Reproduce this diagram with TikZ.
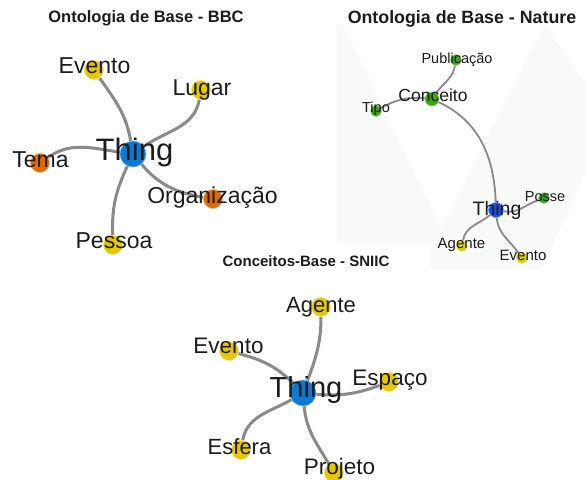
\documentclass[tikz,border=0pt]{standalone}
\usepackage{fontspec}
\setmainfont{Liberation Sans}
\usetikzlibrary{backgrounds}
\definecolor{bluebbc}{HTML}{0A7AD6}
\definecolor{bluenat}{HTML}{1450E6}
\definecolor{yel}{HTML}{E6C800}
\definecolor{yelnat}{HTML}{D6CF00}
\definecolor{ora}{HTML}{E06A00}
\definecolor{grn}{HTML}{3DA60C}
\definecolor{edgec}{HTML}{8A8A8A}
\definecolor{txt}{HTML}{1C1C1C}
\definecolor{bgc}{HTML}{F8F9F9}
\begin{document}
\begin{tikzpicture}[x=1pt,y=1pt,
  hub/.style={circle,inner sep=0pt,minimum size=#1},
  hubbbc/.style={hub=26pt,fill=bluebbc,draw=bluebbc!60!white,line width=0.6pt},
  hubnat/.style={hub=15pt,fill=bluenat,draw=bluenat!60!white,line width=0.5pt},
  leafbig/.style={hub=19pt,fill=#1,draw=#1!55!white,line width=0.7pt},
  leafsmall/.style={hub=11pt,fill=#1,draw=#1!55!white,line width=0.5pt},
  lbl/.style={inner sep=0pt,anchor=base,text=txt},
  ttl/.style={inner sep=0pt,anchor=base,text=txt,font=\bfseries\fontsize{#1}{#1}\selectfont},
  edgebig/.style={draw=edgec,line width=3pt},
  edgesmall/.style={draw=edgec,line width=1.8pt}]
\useasboundingbox (0,0) rectangle (585,-479);

% ---------------- circles ----------------
% BBC
\node[hubbbc] (b-thing) at (133,-154) {};
\node[leafbig=yel] (b-evento) at (94,-70) {};
\node[leafbig=yel] (b-lugar) at (201,-90) {};
\node[leafbig=ora] (b-tema) at (40,-163) {};
\node[leafbig=ora] (b-org) at (213,-199) {};
\node[leafbig=yel] (b-pessoa) at (113,-245) {};
% Nature
\node[hubnat] (n-thing) at (496,-210) {};
\node[hub=14pt,fill=grn,draw=grn!55!white,line width=0.5pt] (n-conceito) at (432,-99) {};
\node[leafsmall=grn] (n-pub) at (456,-60) {};
\node[leafsmall=grn] (n-tipo) at (376,-111) {};
\node[leafsmall=grn] (n-posse) at (544,-198) {};
\node[leafsmall=yelnat] (n-agente) at (462,-246) {};
\node[leafsmall=yelnat] (n-evento) at (522,-258) {};
% SNIIC
\node[hubbbc] (s-thing) at (303,-393) {};
\node[leafbig=yel] (s-agente) at (321,-307) {};
\node[leafbig=yel] (s-evento) at (229,-351) {};
\node[leafbig=yel] (s-espaco) at (389,-382) {};
\node[leafbig=yel] (s-esfera) at (241,-450) {};
\node[leafbig=yel] (s-projeto) at (334,-473) {};

% ---------------- background and edges ----------------
\begin{pgfonlayer}{background}
  \fill[bgc] (337,-25) -- (343,-25) -- (441,-228) -- (545,-25) -- (585,-83)
     -- (585,-173) -- (542,-269) -- (431,-269) -- (431,-243) -- (337,-243) -- cycle;
  % BBC
  \draw[edgebig] (b-thing) to[out=100,in=-55] (b-evento);
  \draw[edgebig] (b-thing) to[out=35,in=-100] (b-lugar);
  \draw[edgebig] (b-thing) to[out=172,in=35] (b-tema);
  \draw[edgebig] (b-thing) to[out=-50,in=170] (b-org);
  \draw[edgebig] (b-thing) to[out=-115,in=92] (b-pessoa);
  % Nature
  \draw[edgesmall] (n-conceito) to[out=-25,in=92] (n-thing);
  \draw[edgesmall] (n-conceito) to[out=55,in=-100] (n-pub);
  \draw[edgesmall] (n-conceito) to[out=175,in=30] (n-tipo);
  \draw[edgesmall] (n-thing) to[out=-10,in=200] (n-posse);
  \draw[edgesmall] (n-thing) to[out=-140,in=80] (n-agente);
  \draw[edgesmall] (n-thing) to[out=-85,in=125] (n-evento);
  % SNIIC
  \draw[edgebig] (s-thing) to[out=70,in=-90] (s-agente);
  \draw[edgebig] (s-thing) to[out=135,in=-15] (s-evento);
  \draw[edgebig] (s-thing) to[out=-5,in=-160] (s-espaco);
  \draw[edgebig] (s-thing) to[out=-150,in=80] (s-esfera);
  \draw[edgebig] (s-thing) to[out=-85,in=120] (s-projeto);
\end{pgfonlayer}

% ---------------- titles ----------------
\node[ttl=16.5] (t-bbc) at (146,-22.5) {Ontologia de Base - BBC};
\node[ttl=17.8] (t-nat) at (462,-23) {Ontologia de Base - Nature};
\node[ttl=15] (t-sniic) at (306,-266.5) {Conceitos-Base - SNIIC};

% ---------------- labels ----------------
% BBC
\node[lbl,font=\fontsize{31}{31}\selectfont] (bl-thing) at (134.5,-160) {Thing};
\node[lbl,font=\fontsize{23}{23}\selectfont] (bl-evento) at (94.5,-73) {Evento};
\node[lbl,font=\fontsize{23}{23}\selectfont] (bl-lugar) at (202,-95) {Lugar};
\node[lbl,font=\fontsize{23}{23}\selectfont] (bl-tema) at (40.5,-167) {Tema};
\node[lbl,font=\fontsize{23}{23}\selectfont] (bl-org) at (212.5,-203) {Organização};
\node[lbl,font=\fontsize{23}{23}\selectfont] (bl-pessoa) at (114,-248) {Pessoa};
% Nature
\node[lbl,font=\fontsize{19.5}{19.5}\selectfont] (nl-thing) at (497,-215) {Thing};
\node[lbl,font=\fontsize{17.5}{17.5}\selectfont] (nl-conceito) at (433,-101.5) {Conceito};
\node[lbl,font=\fontsize{14.5}{14.5}\selectfont] (nl-pub) at (457,-63.5) {Publicação};
\node[lbl,font=\fontsize{14.5}{14.5}\selectfont] (nl-tipo) at (376,-112) {Tipo};
\node[lbl,font=\fontsize{14.5}{14.5}\selectfont] (nl-posse) at (545,-201.5) {Posse};
\node[lbl,font=\fontsize{15}{15}\selectfont] (nl-agente) at (461.5,-248) {Agente};
\node[lbl,font=\fontsize{15}{15}\selectfont] (nl-evento) at (523,-260) {Evento};
% SNIIC
\node[lbl,font=\fontsize{29}{29}\selectfont] (sl-thing) at (306,-397.5) {Thing};
\node[lbl,font=\fontsize{22}{22}\selectfont] (sl-agente) at (321,-312) {Agente};
\node[lbl,font=\fontsize{22.5}{22.5}\selectfont] (sl-evento) at (228.5,-353) {Evento};
\node[lbl,font=\fontsize{22.5}{22.5}\selectfont] (sl-espaco) at (390,-385) {Espaço};
\node[lbl,font=\fontsize{22}{22}\selectfont] (sl-esfera) at (239.5,-454) {Esfera};
\node[lbl,font=\fontsize{22.5}{22.5}\selectfont] (sl-projeto) at (339.5,-474) {Projeto};
\end{tikzpicture}
\end{document}
